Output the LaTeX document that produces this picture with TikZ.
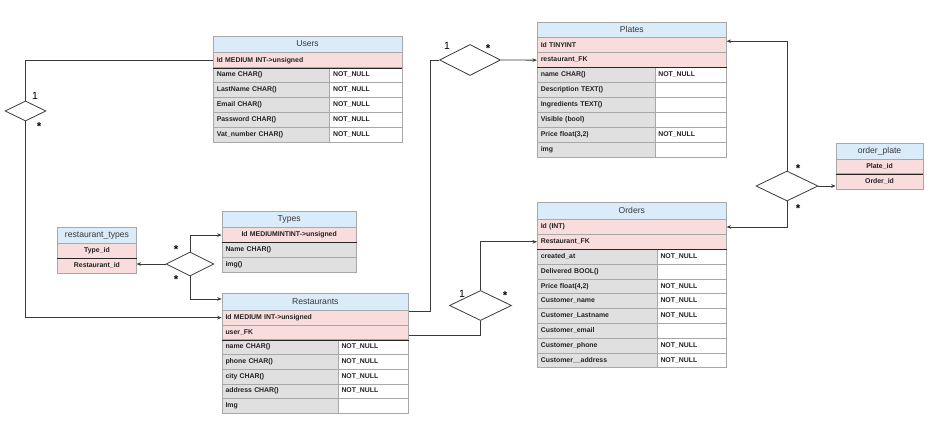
\documentclass[tikz,border=0pt]{standalone}
\usepackage{fontspec}
\setmainfont{Liberation Sans}
\usetikzlibrary{shapes.geometric,arrows.meta,calc}

\definecolor{hdrblue}{HTML}{DAEBFA}
\definecolor{keypink}{HTML}{F9DCDC}
\definecolor{cellgray}{HTML}{E0E0E0}
\definecolor{gridgray}{HTML}{A8A8A8}
\definecolor{linkgray}{HTML}{3A3A3A}
\definecolor{inkgray}{HTML}{222222}

\tikzset{
  cell/.style={draw=gridgray, line width=0.6pt, anchor=north west,
    inner xsep=3.5pt, inner ysep=0pt, text=inkgray,
    font=\fontsize{6.9}{8}\selectfont\bfseries, text height=5.1pt, text depth=1.5pt},
  head/.style={fill=hdrblue, align=center, text=inkgray!90,
    font=\fontsize{8.6}{10}\selectfont, text height=6.4pt, text depth=1.8pt},
  key/.style={fill=keypink, align=left},
  keyc/.style={fill=keypink, align=center},
  field/.style={fill=cellgray, align=left},
  flag/.style={fill=white, align=left},
  sepline/.style={draw=black!85, line width=0.9pt},
  rel/.style={diamond, draw=linkgray, line width=0.8pt, inner sep=0pt, fill=white},
  link/.style={draw=linkgray, line width=0.8pt},
  arr/.style={link, -{Stealth[length=4.5pt,width=3.6pt]}},
  lbl/.style={inner sep=0pt, text=black, font=\fontsize{10.5}{12}\selectfont},
  starlbl/.style={inner sep=0pt, text=black, font=\fontsize{11.5}{12}\selectfont\bfseries}
}

% one table cell: name, x, y (top left), width, height, style, text
\newcommand\dbcell[7]{%
  \pgfmathsetmacro\dbcellw{#4-7}%
  \node[cell,#6,text width=\dbcellw pt,minimum height=#5pt] (#1) at (#2,#3) {#7};}

% two-column field rows: prefix, x, top y, left width, right width, row height, list
\newcommand\fieldrows[7]{%
  \foreach \nm/\txt/\flg [count=\k from 0] in {#7}{%
    \pgfmathsetmacro\rowy{#3+\k*#6}%
    \pgfmathsetmacro\rowx{#2+#4}%
    \dbcell{#1-\nm}{#2}{\rowy}{#4}{#6}{field}{\txt}%
    \dbcell{#1-\nm-c}{\rowx}{\rowy}{#5}{#6}{flag}{\flg}%
  }}

\begin{document}
\begin{tikzpicture}[x=1pt,y=-1pt]
\useasboundingbox (0,0) rectangle (936,430);
\fill[white] (0,0) rectangle (936,430);

% ---------------- Users ----------------
\dbcell{users-h}{213}{36}{188.5}{16.5}{head}{Users}
\dbcell{users-id}{213}{52.5}{188.5}{14.9}{key}{Id MEDIUM INT->unsigned}
\fieldrows{users}{213}{67.4}{116.3}{72.2}{14.9}{%
  name/Name CHAR()/NOT\_NULL,
  last/LastName CHAR()/NOT\_NULL,
  mail/Email CHAR()/NOT\_NULL,
  pass/Password CHAR()/NOT\_NULL,
  vat/Vat\_number CHAR()/NOT\_NULL}
\draw[sepline] (users-id.south west) -- (users-id.south east);

% ---------------- Plates ----------------
\dbcell{plates-h}{537}{22}{189}{15.5}{head}{Plates}
\dbcell{plates-id}{537}{37.5}{189}{14.9}{key}{Id TINYINT}
\dbcell{plates-fk}{537}{52.4}{189}{14.9}{key}{restaurant\_FK}
\fieldrows{plates}{537}{67.3}{117.5}{71.5}{14.9}{%
  name/name CHAR()/NOT\_NULL,
  desc/Description TEXT()/{},
  ingr/Ingredients TEXT()/{},
  vis/Visible (bool)/{},
  price/{Price float(3,2)}/NOT\_NULL,
  img/img/{}}
\draw[sepline] (plates-fk.south west) -- (plates-fk.south east);

% ---------------- Orders ----------------
\dbcell{orders-h}{537}{202.5}{189}{16.8}{head}{Orders}
\dbcell{orders-id}{537}{219.3}{189}{14.8}{key}{Id (INT)}
\dbcell{orders-fk}{537}{234.1}{189}{14.8}{key}{Restaurant\_FK}
\fieldrows{orders}{537}{248.9}{119.7}{69.3}{14.8}{%
  created/created\_at/NOT\_NULL,
  deliv/Delivered BOOL()/{},
  price/{Price float(4,2)}/NOT\_NULL,
  cname/Customer\_name/NOT\_NULL,
  clast/Customer\_Lastname/NOT\_NULL,
  cmail/Customer\_email/{},
  cphone/Customer\_phone/NOT\_NULL,
  caddr/Customer\_\_address/NOT\_NULL}
\draw[sepline] (orders-fk.south west) -- (orders-fk.south east);

% ---------------- Restaurants ----------------
\dbcell{rest-h}{221.7}{293.3}{186.6}{16.7}{head}{Restaurants}
\dbcell{rest-id}{221.7}{310}{186.6}{14.7}{key}{Id MEDIUM INT->unsigned}
\dbcell{rest-fk}{221.7}{324.7}{186.6}{14.7}{key}{user\_FK}
\fieldrows{rest}{221.7}{339.4}{116}{70.6}{14.7}{%
  name/name CHAR()/NOT\_NULL,
  phone/phone CHAR()/NOT\_NULL,
  city/city CHAR()/NOT\_NULL,
  addr/address CHAR()/NOT\_NULL,
  img/Img/{}}
\draw[sepline] (rest-fk.south west) -- (rest-fk.south east);

% ---------------- Types ----------------
\dbcell{types-h}{221.7}{211}{134.3}{16.3}{head}{Types}
\dbcell{types-id}{221.7}{227.3}{134.3}{15}{keyc}{Id MEDIUMINTINT->unsigned}
\dbcell{types-name}{221.7}{242.3}{134.3}{14.9}{field}{Name CHAR()}
\dbcell{types-img}{221.7}{257.2}{134.3}{14.8}{field}{img()}
\draw[sepline] (types-id.south west) -- (types-id.south east);

% ---------------- restaurant_types ----------------
\dbcell{rt-h}{57.3}{227.3}{78.7}{16}{head}{restaurant\_types}
\dbcell{rt-type}{57.3}{243.3}{78.7}{15}{keyc}{Type\_id}
\dbcell{rt-rest}{57.3}{258.3}{78.7}{15}{keyc}{Restaurant\_id}
\draw[sepline] (rt-type.south west) -- (rt-type.south east);

% ---------------- order_plate ----------------
\dbcell{op-h}{835.7}{142.7}{87}{16.3}{head}{order\_plate}
\dbcell{op-plate}{835.7}{159}{87}{14.5}{keyc}{Plate\_id}
\dbcell{op-order}{835.7}{173.5}{87}{15.5}{keyc}{Order\_id}
\draw[sepline] (op-plate.south west) -- (op-plate.south east);

% ---------------- relationship diamonds ----------------
\node[rel, minimum width=41pt, minimum height=20pt] (d-users)  at (25.5,111) {};
\node[rel, minimum width=48pt, minimum height=24pt] (d-types)  at (190,264) {};
\node[rel, minimum width=61pt, minimum height=31pt] (d-plates) at (470,60) {};
\node[rel, minimum width=62pt, minimum height=30pt] (d-orders) at (480.5,305.5) {};
\node[rel, minimum width=62pt, minimum height=30pt] (d-op)     at (787,186) {};

% ---------------- connectors ----------------
\draw[link] (users-id.west) -| (d-users.north);
\draw[arr]  (d-users.south) |- (rest-id.west);

\draw[link] ($(rest-id.north east)+(0,1.5)$) -| ($(d-plates.west)+(-9,0)$) -- (d-plates.west);
\draw[arr]  (d-plates.east) -- (plates-fk.west);

\draw[link] ($(rest-fk.east)+(0,3)$) -| (d-orders.south);
\draw[arr]  (d-orders.north) |- (orders-fk.west);

\draw[arr]  (d-op.north) |- ($(plates-id.east)+(0,-4)$);
\draw[arr]  (d-op.south) |- (orders-id.east);
\draw[arr]  (d-op.east) -- (d-op.east -| op-order.west);

\draw[arr]  (d-types.west) -- (d-types.west -| rt-rest.east);
\draw[arr]  (d-types.north) |- (types-id.west);
\draw[arr]  (d-types.south) |- ($(rest-h.west)+(0,-3)$);

% ---------------- cardinalities ----------------
\node[lbl] (c-u1) at (35,96) {1};
\node[starlbl] (c-u2) at (39,127) {*};
\node[lbl] (c-p1) at (447,46) {1};
\node[starlbl] (c-p2) at (488,49) {*};
\node[lbl] (c-o1) at (462,294) {1};
\node[starlbl] (c-o2) at (505,296) {*};
\node[starlbl] (c-op1) at (798,169) {*};
\node[starlbl] (c-op2) at (798,209) {*};
\node[starlbl] (c-t1) at (176,249.5) {*};
\node[starlbl] (c-t2) at (176,280) {*};
\end{tikzpicture}
\end{document}
